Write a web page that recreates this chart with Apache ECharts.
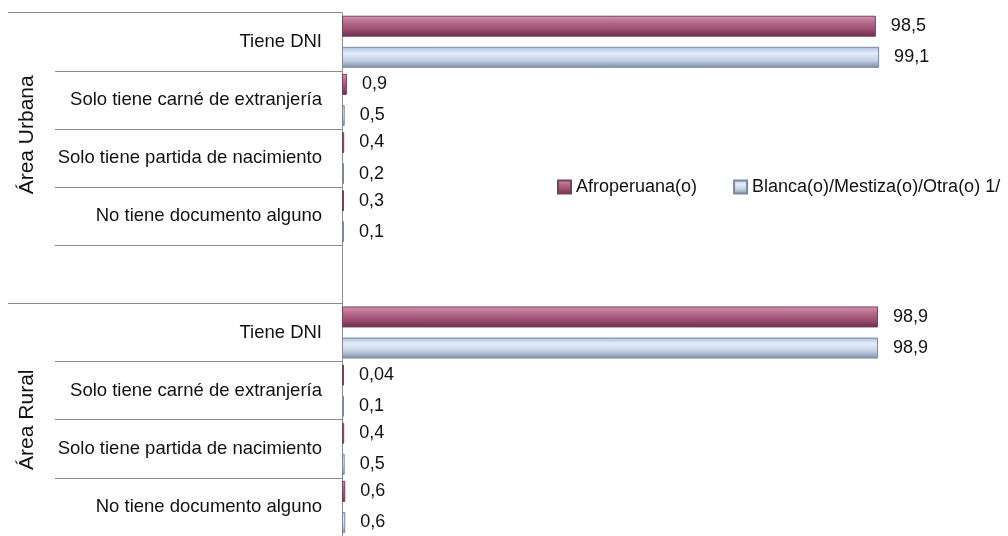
<!DOCTYPE html>
<html>
<head>
<meta charset="utf-8">
<script src="https://cdn.jsdelivr.net/npm/echarts@6/dist/echarts.min.js"></script>
<style>
  html, body { margin: 0; padding: 0; background: #fff; }
  #chart { width: 1008px; height: 536px; }
</style>
</head>
<body>
<div id="chart"></div>
<script>
var categories = [
    'Tiene DNI',
    'Solo tiene carné de extranjería',
    'Solo tiene partida de nacimiento',
    'No tiene documento alguno',
    '',
    'Tiene DNI',
    'Solo tiene carné de extranjería',
    'Solo tiene partida de nacimiento',
    'No tiene documento alguno'
];
var afro = [98.5, 0.9, 0.4, 0.3, null, 98.9, 0.04, 0.4, 0.6];
var blanca = [99.1, 0.5, 0.2, 0.1, null, 98.9, 0.1, 0.5, 0.6];
var seriesNames = ['Afroperuana(o)', 'Blanca(o)/Mestiza(o)/Otra(o) 1/'];
var areas = ['Área Urbana', 'Área Rural'];
var areaBounds = [0, 5, 9];
var areaCenters = [2.1, 7];

var font = "'Liberation Sans', Arial, sans-serif";
var lineColor = '#8c8c8c';

var chart = echarts.init(document.getElementById('chart'));

function fmt(p) {
    return String(p.value).replace('.', ',');
}

var option = {
    animation: false,
    textStyle: { fontFamily: font },
    legend: {
        left: 552,
        top: 173,
        width: 456,
        icon: 'rect',
        itemWidth: 13,
        itemHeight: 13,
        itemGap: 36,
        textStyle: { fontSize: 18, color: '#111', fontFamily: font },
        data: seriesNames
    },
    grid: { left: 342, top: 12.7, width: 542, height: 525.6 },
    xAxis: {
        type: 'value',
        min: 0,
        max: 100,
        show: false
    },
    yAxis: [
        {
            type: 'category',
            data: categories,
            inverse: true,
            axisLine: { show: true, lineStyle: { color: lineColor, width: 1 } },
            axisTick: {
                show: true,
                interval: 0,
                alignWithLabel: false,
                length: 287,
                lineStyle: { color: lineColor }
            },
            axisLabel: {
                interval: 0,
                margin: 20,
                fontSize: 18.5,
                color: '#111',
                fontFamily: font
            }
        },
        {
            type: 'value',
            position: 'left',
            min: 0,
            max: 9,
            inverse: true,
            axisLine: { show: false },
            splitLine: { show: false },
            axisTick: {
                show: true,
                customValues: areaBounds,
                length: 334,
                lineStyle: { color: lineColor }
            },
            axisLabel: {
                customValues: areaCenters,
                rotate: 90,
                margin: 304,
                fontSize: 21,
                color: '#111',
                fontFamily: font,
                formatter: function (v) { return v < 4.5 ? areas[0] : areas[1]; }
            }
        }
    ],
    series: [
        {
            name: seriesNames[0],
            type: 'bar',
            data: afro,
            barWidth: 21,
            barGap: '48%',
            barMinHeight: 2,
            itemStyle: {
                borderColor: '#7a3f5c',
                borderWidth: 1,
                color: new echarts.graphic.LinearGradient(0, 0, 0, 1, [
                    { offset: 0, color: '#d596b0' },
                    { offset: 0.3, color: '#b86d8d' },
                    { offset: 0.65, color: '#9a4f70' },
                    { offset: 1, color: '#6a2d48' }
                ])
            },
            label: {
                show: true,
                position: 'right',
                distance: 15,
                fontSize: 18,
                color: '#111',
                fontFamily: font,
                formatter: fmt
            }
        },
        {
            name: seriesNames[1],
            type: 'bar',
            data: blanca,
            barWidth: 21,
            barGap: '48%',
            barMinHeight: 2,
            itemStyle: {
                borderColor: '#7b889e',
                borderWidth: 1,
                color: new echarts.graphic.LinearGradient(0, 0, 0, 1, [
                    { offset: 0, color: '#a9bedc' },
                    { offset: 0.3, color: '#e4edf9' },
                    { offset: 0.65, color: '#c3d0e4' },
                    { offset: 1, color: '#7d8da6' }
                ])
            },
            label: {
                show: true,
                position: 'right',
                distance: 15,
                fontSize: 18,
                color: '#111',
                fontFamily: font,
                formatter: fmt
            }
        }
    ]
};

chart.setOption(option);
</script>
</body>
</html>
